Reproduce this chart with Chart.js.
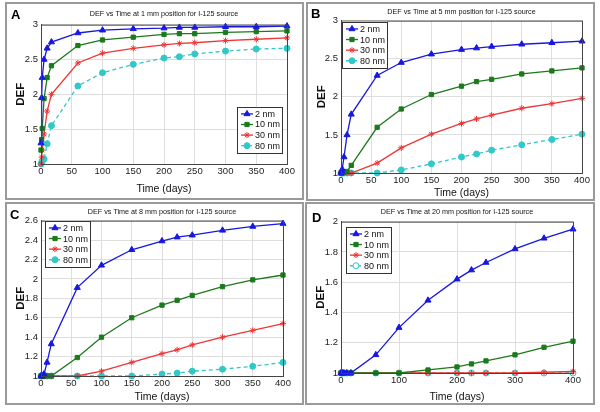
<!DOCTYPE html>
<html>
<head>
<meta charset="utf-8">
<script src="https://cdn.jsdelivr.net/npm/chart.js@4/dist/chart.umd.min.js"></script>
<style>
  body { margin: 0; background: #fff; width: 600px; height: 412px; position: relative; overflow: hidden; }
  .box { position: absolute; border: 2px solid #9a9a9a; box-sizing: border-box; }
  canvas { position: absolute; }
  .tag { position: absolute; font: bold 13px 'Liberation Sans', Arial, sans-serif; line-height: 1; color: #000; }
</style>
</head>
<body>
<div class="box" style="left:5px;top:2px;width:299px;height:198px"></div>
<div class="box" style="left:306px;top:2px;width:289px;height:199px"></div>
<div class="box" style="left:5px;top:202px;width:299px;height:203px"></div>
<div class="box" style="left:305px;top:202px;width:290px;height:203px"></div>
<canvas id="pA" width="295" height="194" style="left:7px;top:4px"></canvas>
<canvas id="pB" width="285" height="195" style="left:308px;top:4px"></canvas>
<canvas id="pC" width="295" height="199" style="left:7px;top:204px"></canvas>
<canvas id="pD" width="286" height="199" style="left:307px;top:204px"></canvas>
<div class="tag" style="left:11px;top:8px">A</div>
<div class="tag" style="left:311px;top:7px">B</div>
<div class="tag" style="left:10px;top:208px">C</div>
<div class="tag" style="left:312px;top:211px">D</div>
<script>
/* DEF vs time, four source positions */

Chart.defaults.font.family = "'Liberation Sans', Arial, sans-serif";
Chart.defaults.color = '#222';

// ── Data ─────────────────────────────────────────────────────────────────────

const days = [0, 1, 2, 5, 10, 17, 60, 100, 150, 200, 225, 250, 300, 350, 400];
const labels = ['2 nm', '10 nm', '30 nm', '80 nm'];

// 1 mm
const a2  = [1.30, 1.95, 2.24, 2.50, 2.66, 2.75, 2.88, 2.92, 2.94, 2.95, 2.96, 2.96, 2.97, 2.97, 2.98];
const a10 = [1.20, 1.35, 1.51, 1.94, 2.24, 2.41, 2.70, 2.78, 2.82, 2.86, 2.87, 2.87, 2.89, 2.90, 2.91];
const a30 = [1.00, 1.10, 1.20, 1.43, 1.76, 2.00, 2.45, 2.59, 2.66, 2.71, 2.73, 2.74, 2.77, 2.79, 2.81];
const a80 = [1.00, 1.02, 1.04, 1.07, 1.29, 1.55, 2.12, 2.31, 2.43, 2.52, 2.54, 2.58, 2.62, 2.65, 2.66];

// 5 mm
const b2  = [1.00, 1.02, 1.05, 1.21, 1.50, 1.77, 2.28, 2.45, 2.56, 2.62, 2.64, 2.66, 2.69, 2.71, 2.73];
const b10 = [1.00, 1.00, 1.00, 1.01, 1.02, 1.10, 1.60, 1.84, 2.03, 2.14, 2.20, 2.23, 2.30, 2.34, 2.38];
const b30 = [1.00, 1.00, 1.00, 1.00, 1.00, 1.00, 1.13, 1.33, 1.51, 1.65, 1.71, 1.76, 1.85, 1.91, 1.98];
const b80 = [1.00, 1.00, 1.00, 1.00, 1.00, 1.00, 1.00, 1.04, 1.12, 1.21, 1.25, 1.30, 1.37, 1.44, 1.51];

// 8 mm
const c2  = [1.00, 1.00, 1.00, 1.02, 1.14, 1.33, 1.91, 2.14, 2.30, 2.39, 2.43, 2.45, 2.50, 2.54, 2.57];
const c10 = [1.00, 1.00, 1.00, 1.00, 1.00, 1.00, 1.19, 1.40, 1.60, 1.73, 1.78, 1.83, 1.92, 1.99, 2.04];
const c30 = [1.00, 1.00, 1.00, 1.00, 1.00, 1.00, 1.00, 1.05, 1.14, 1.23, 1.27, 1.32, 1.40, 1.47, 1.54];
const c80 = [1.00, 1.00, 1.00, 1.00, 1.00, 1.00, 1.00, 1.00, 1.00, 1.02, 1.03, 1.05, 1.07, 1.10, 1.14];

// 20 mm
const d2  = [1.00, 1.00, 1.00, 1.00, 1.00, 1.00, 1.12, 1.30, 1.48, 1.62, 1.68, 1.73, 1.82, 1.89, 1.95];
const d10 = [1.00, 1.00, 1.00, 1.00, 1.00, 1.00, 1.00, 1.00, 1.02, 1.04, 1.06, 1.08, 1.12, 1.17, 1.21];
const d30 = [1.00, 1.00, 1.00, 1.00, 1.00, 1.00, 1.00, 1.00, 1.00, 1.00, 1.00, 1.00, 1.00, 1.005, 1.01];
const d80 = [1.00, 1.00, 1.00, 1.00, 1.00, 1.00, 1.00, 1.00, 1.00, 1.00, 1.00, 1.00, 1.00, 1.00, 1.00];

// ── Style ────────────────────────────────────────────────────────────────────

const COLORS = ['#1717e0', '#1b7a1b', '#f03535', '#30c8c8'];
const MARKS = ['triangle', 'rect', 'star', 'circle'];
const RADII = [3.5, 3, 3, 3];
const TICK_FONT = { size: 9.5 };

function el(id) { return document.getElementById(id); }

function fmtTick(v) { return String(+v.toFixed(2)); }

// matlab-ish axes frame
const framePlugin = {
  id: 'frame',
  afterDraw(chart) {
    const a = chart.chartArea, ctx = chart.ctx;
    ctx.save();
    ctx.strokeStyle = '#444';
    ctx.lineWidth = 1;
    ctx.strokeRect(a.left + 0.5, a.top + 0.5, a.right - a.left, a.bottom - a.top);
    ctx.restore();
  }
};

// boxed legend sitting inside the plot area
const boxLegend = {
  id: 'boxLegend',
  afterDraw(chart, args, opts) {
    const ctx = chart.ctx, area = chart.chartArea;
    const sets = chart.data.datasets;
    const rowH = 10.6, pad = 2, sample = 12;
    ctx.save();
    ctx.font = "9px 'Liberation Sans', Arial, sans-serif";
    const textW = Math.max(...sets.map(d => ctx.measureText(d.label).width));
    const w = pad + 2 + sample + 2 + textW + pad;
    const h = rowH * sets.length + pad * 2;
    const x = opts.corner === 'br' ? area.right - w - opts.dx : area.left + opts.dx;
    const y = opts.corner === 'br' ? area.bottom - h - opts.dy : area.top + opts.dy;
    ctx.fillStyle = '#fff';
    ctx.fillRect(x, y, w, h);
    ctx.strokeStyle = '#333';
    ctx.lineWidth = 1;
    ctx.strokeRect(Math.round(x) + 0.5, Math.round(y) + 0.5, Math.round(w), Math.round(h));
    sets.forEach((d, i) => {
      const cy = y + pad + rowH * i + rowH / 2;
      const x0 = x + pad + 2;
      ctx.strokeStyle = d.borderColor;
      ctx.lineWidth = d.borderWidth;
      ctx.setLineDash(d.borderDash || []);
      ctx.beginPath();
      ctx.moveTo(x0, cy);
      ctx.lineTo(x0 + sample, cy);
      ctx.stroke();
      ctx.setLineDash([]);
      ctx.fillStyle = d.pointBackgroundColor;
      ctx.strokeStyle = d.borderColor;
      ctx.lineWidth = d.pointBorderWidth;
      Chart.helpers.drawPoint(ctx, { pointStyle: d.pointStyle, radius: d.pointRadius, rotation: 0, borderWidth: d.pointBorderWidth }, x0 + sample / 2, cy);
      ctx.fillStyle = '#111';
      ctx.textBaseline = 'middle';
      ctx.textAlign = 'left';
      ctx.fillText(d.label, x0 + sample + 2, cy + 0.5);
    });
    ctx.restore();
  }
};

// ── Panels ───────────────────────────────────────────────────────────────────

function makePanel(id, p) {
  const datasets = p.series.map((vals, i) => ({
    label: labels[i],
    data: days.map((d, j) => ({ x: d, y: vals[j] })),
    borderColor: COLORS[i],
    backgroundColor: COLORS[i],
    pointBackgroundColor: (i === 3 && p.openCyan) ? '#fff' : COLORS[i],
    pointStyle: MARKS[i],
    pointRadius: RADII[i],
    pointBorderWidth: 1,
    borderWidth: 1.3,
    borderDash: i === 3 ? [4, 3] : [],
    tension: 0,
    clip: false,
  }));

  new Chart(el(id).getContext('2d'), {
    type: 'line',
    data: { datasets },
    options: {
      responsive: false,
      animation: false,
      layout: { padding: { left: 0, right: p.padRight, top: 0, bottom: 0 } },
      plugins: {
        legend: { display: false },
        tooltip: { enabled: false },
        title: {
          display: true, text: p.title, fullSize: false, color: '#111',
          font: { size: 7.2, weight: 'normal' }, padding: p.titlePad,
        },
        boxLegend: p.legend,
      },
      scales: {
        x: {
          type: 'linear', min: 0, max: 400,
          ticks: { stepSize: p.xStep, padding: 2, font: TICK_FONT, maxRotation: 0, callback: fmtTick },
          grid: { color: '#dedede', drawTicks: false },
          border: { color: '#444' },
          title: { display: true, text: 'Time (days)', color: '#111', font: { size: 10.5 }, padding: { top: 0, bottom: p.xtb } },
          afterFit: s => { s.height = p.xh; },
        },
        y: {
          type: 'linear', min: p.yMin, max: p.yMax,
          ticks: { stepSize: p.yStep, padding: 3, font: TICK_FONT, callback: fmtTick },
          grid: { color: '#dedede', drawTicks: false },
          border: { color: '#444' },
          title: { display: true, text: 'DEF', color: '#111', font: { size: 11.5, weight: 'bold' }, padding: { top: 7, bottom: 2 } },
          afterFit: s => { s.width = p.yw; },
        }
      }
    },
    plugins: [framePlugin, boxLegend]
  });
}

makePanel('pA', {
  title: 'DEF vs Time at 1 mm position for I-125 source',
  series: [a2, a10, a30, a80], yMin: 1, yMax: 3, yStep: 0.5, xStep: 50,
  yw: 34, xh: 34, xtb: 3, padRight: 15, titlePad: { top: 6, bottom: 6 },
  legend: { corner: 'br', dx: 5, dy: 11 },
});

makePanel('pB', {
  title: 'DEF vs Time at 5 mm position for I-125 source',
  series: [b2, b10, b30, b80], yMin: 1, yMax: 3, yStep: 0.5, xStep: 50,
  yw: 33, xh: 26, xtb: 0, padRight: 11, titlePad: { top: 4, bottom: 4 },
  legend: { corner: 'tl', dx: 1, dy: 1 },
});

makePanel('pC', {
  title: 'DEF vs Time at 8 mm position for I-125 source',
  series: [c2, c10, c30, c80], yMin: 1, yMax: 2.6, yStep: 0.2, xStep: 50,
  yw: 34, xh: 27, xtb: 0, padRight: 19, titlePad: { top: 4, bottom: 4 },
  legend: { corner: 'tl', dx: 4, dy: 0 },
});

makePanel('pD', {
  title: 'DEF vs Time at 20 mm position for I-125 source',
  series: [d2, d10, d30, d80], yMin: 1, yMax: 2, yStep: 0.2, xStep: 100,
  yw: 34, xh: 30, xtb: 0, padRight: 20, titlePad: { top: 4, bottom: 5 }, openCyan: true,
  legend: { corner: 'tl', dx: 5, dy: 5 },
});
</script>
</body>
</html>
